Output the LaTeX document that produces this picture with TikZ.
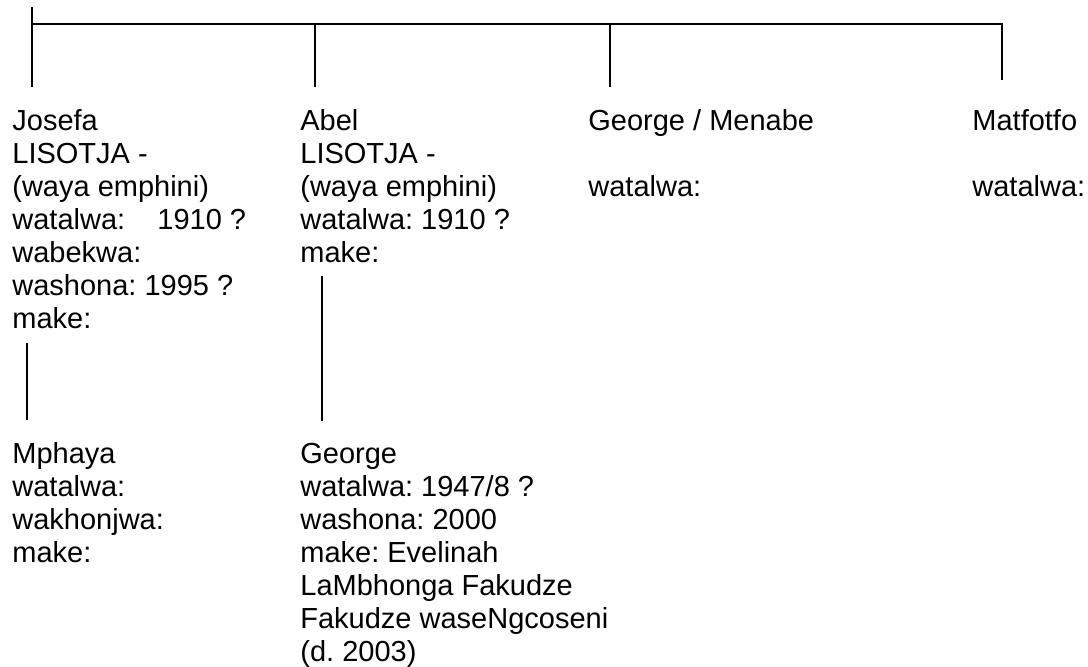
\documentclass[tikz,border=0pt]{standalone}
\usepackage{fontspec}
\setmainfont{Liberation Sans}
\usetikzlibrary{positioning}
\frenchspacing

\begin{document}
\begin{tikzpicture}[x=0.5pt, y=-0.5pt, font={\fontsize{14.5pt}{16.5pt}\selectfont},
  person/.style={align=left, inner sep=0pt, anchor=north west},
  link/.style={draw, line width=0.65pt}]
\useasboundingbox (0,0) rectangle (1088,667);
\node[person] (josefa) at (12,109) {Josefa\\ LISOTJA -\\ (waya emphini)\\ watalwa:\ \ \ \ 1910 ?\\ wabekwa:\\ washona: 1995 ?\\ make:};
\node[person] (abel) at (300,109) {Abel\\ LISOTJA -\\ (waya emphini)\\ watalwa: 1910 ?\\ make:};
\node[person] (menabe) at (588,109) {George / Menabe\\[16.5pt] watalwa:};
\node[person] (matfotfo) at (972,109) {Matfotfo\\[16.5pt] watalwa:};
\node[person, below=56.5pt of josefa.south west, anchor=north west] (mphaya) {Mphaya\\ watalwa:\\ wakhonjwa:\\ make:};
\node[person, below=90pt of abel.south west, anchor=north west] (george) {George\\ watalwa: 1947/8 ?\\ washona: 2000\\ make: Evelinah\\ LaMbhonga Fakudze\\ Fakudze waseNgcoseni\\ (d. 2003)};
\coordinate (root) at (32,7); \coordinate (bar) at (1002,24);
\coordinate (dropJ) at (32,87); \coordinate (dropA) at (315,87);
\coordinate (dropG) at (610,87); \coordinate (dropM) at (1002,80);
\draw[link] (root)--(dropJ); \draw[link] (root |- bar)--(bar)--(dropM);
\draw[link] (dropA |- bar)--(dropA); \draw[link] (dropG |- bar)--(dropG);
\draw[link] ([xshift=7.5pt, yshift=-7pt]josefa.south west)--([xshift=7.5pt, yshift=11pt]mphaya.north west);
\draw[link] ([xshift=11pt, yshift=-6.5pt]abel.south west)--([xshift=11pt, yshift=11pt]george.north west);
\end{tikzpicture}
\end{document}
